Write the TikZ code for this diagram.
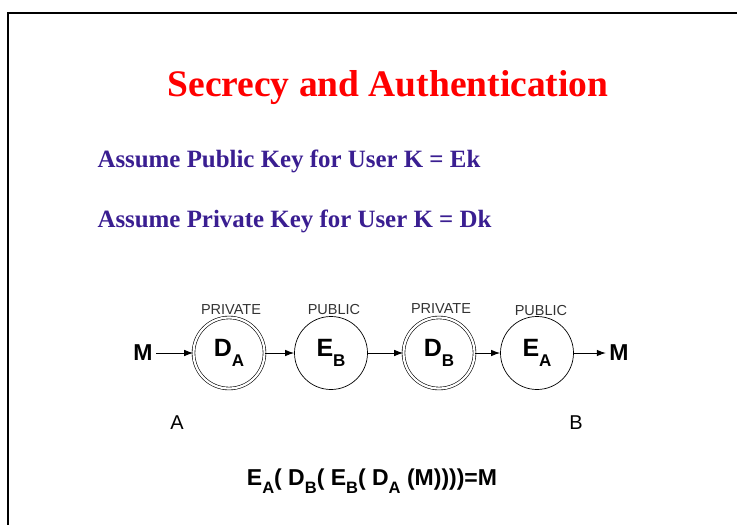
\documentclass[tikz,border=0pt]{standalone}
\usepackage{fontspec}
\setmainfont{Liberation Serif}
\setsansfont{Liberation Sans}
\usetikzlibrary{arrows.meta}
\definecolor{titlered}{RGB}{255,0,0}
\definecolor{keyblue}{RGB}{58,30,145}
\newcommand{\stsub}[1]{\raisebox{-0.38em}{\fontsize{17}{17}\selectfont #1}}
\newcommand{\fmsub}[1]{\raisebox{-0.35em}{\fontsize{16.5}{16.5}\selectfont #1}}
\tikzset{
  stage/.style={circle, draw, line width=0.7pt, minimum size=73pt, inner sep=0pt,
    font=\sffamily\bfseries\fontsize{25}{25}\selectfont},
  privstage/.style={stage, minimum size=71pt, double, double distance=2.2pt, line width=0.6pt},
  keylabel/.style={font=\sffamily\fontsize{14.5}{14.5}\selectfont, text=black!80},
  arr/.style={-{Latex[length=9pt,width=6.5pt]}, line width=0.9pt},
  bigm/.style={font=\sffamily\bfseries\fontsize{23}{23}\selectfont},
  endlabel/.style={font=\sffamily\fontsize{20}{20}\selectfont},
  bluetext/.style={anchor=west, text=keyblue, font=\bfseries\fontsize{24.9}{24.9}\selectfont}
}
\begin{document}
\begin{tikzpicture}[x=1pt,y=-1pt]
\useasboundingbox (0,0) rectangle (737,525);
\draw[line width=2.6pt] (737,13) -- (8,13) -- (8,525);
\node[text=titlered, font=\bfseries\fontsize{37.5}{37.5}\selectfont] (title) at (388,88) {Secrecy and Authentication};
\node[bluetext] (pub) at (94,161) {Assume Public Key for User K = Ek};
\node[bluetext] (priv) at (94,221) {Assume Private Key for User K = Dk};
\node[privstage] (da) at (229,353) {D\stsub{A}};
\node[stage] (eb) at (331,353) {E\stsub{B}};
\node[privstage] (db) at (439,353) {D\stsub{B}};
\node[stage] (ea) at (537,353) {E\stsub{A}};
\node[keylabel] (l1) at (231,310) {PRIVATE};
\node[keylabel] (l2) at (334,310) {PUBLIC};
\node[keylabel] (l3) at (441,309) {PRIVATE};
\node[keylabel] (l4) at (541,311) {PUBLIC};
\node[bigm] (min) at (143,353) {M};
\node[bigm] (mout) at (619,353) {M};
\draw[arr] (min) -- (da);
\draw[arr] (da) -- (eb);
\draw[arr] (eb) -- (db);
\draw[arr] (db) -- (ea);
\draw[arr] (ea) -- (mout);
\node[endlabel] (a) at (177,423) {A};
\node[endlabel] (b) at (576,423) {B};
\node[font=\sffamily\bfseries\fontsize{23}{23}\selectfont] (formula) at (372,481)
  {E\fmsub{A}( D\fmsub{B}( E\fmsub{B}( D\fmsub{A} (M))))=M};
\end{tikzpicture}
\end{document}
